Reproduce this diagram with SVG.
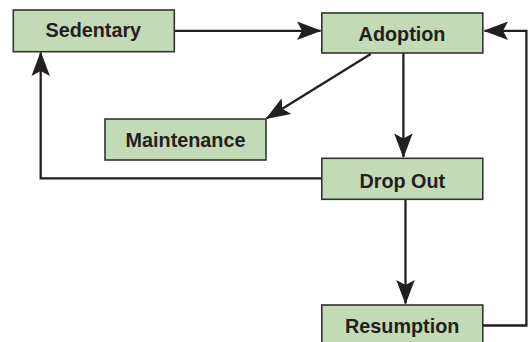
<svg xmlns="http://www.w3.org/2000/svg" width="528" height="342" viewBox="0 0 528 342">
  <style>
    .box { fill: #c2dab6; stroke: #333333; stroke-width: 1.6; }
    .label { font-family: "Liberation Sans", Arial, sans-serif; font-weight: bold; font-size: 19.8px; fill: #231f20; text-anchor: middle; }
    .edge { fill: none; stroke: #231f20; stroke-width: 2.3; }
  </style>
  <defs>
    <marker id="arrow" markerUnits="userSpaceOnUse" markerWidth="1" markerHeight="1" refX="0" refY="0" orient="auto" overflow="visible">
      <path d="M1,0 L-23.5,-9.2 L-18.5,0 L-23.5,9.2 Z" fill="#231f20"/>
    </marker>
  </defs>
  <rect width="528" height="342" fill="#ffffff"/>

  <g id="connectors">
    <!-- Sedentary to Adoption -->
    <path class="edge" d="M174.3,30.8 H320.5" marker-end="url(#arrow)"/>
    <!-- Adoption to Maintenance -->
    <path class="edge" d="M370.7,54 L266.5,118.5" marker-end="url(#arrow)"/>
    <!-- Adoption to Drop Out -->
    <path class="edge" d="M403.4,53 V157" marker-end="url(#arrow)"/>
    <!-- Drop Out back to Sedentary -->
    <path class="edge" d="M322,178.3 H40.7 V52.5" marker-end="url(#arrow)"/>
    <!-- Drop Out to Resumption -->
    <path class="edge" d="M405.5,199.5 V303.5" marker-end="url(#arrow)"/>
    <!-- Resumption back to Adoption -->
    <path class="edge" d="M483,325.5 H526.4 V30.8 H484.5" marker-end="url(#arrow)"/>
  </g>

  <g id="sedentary">
    <rect class="box" x="13.3" y="10" width="161" height="41.7"/>
    <text class="label" x="93.3" y="36.8">Sedentary</text>
  </g>
  <g id="adoption">
    <rect class="box" x="321.8" y="13" width="161" height="40"/>
    <text class="label" x="402" y="40.7">Adoption</text>
  </g>
  <g id="maintenance">
    <rect class="box" x="105" y="119" width="161" height="41"/>
    <text class="label" x="185.5" y="146.7">Maintenance</text>
  </g>
  <g id="drop-out">
    <rect class="box" x="321.8" y="158.3" width="161" height="41"/>
    <text class="label" x="402.3" y="188.3">Drop Out</text>
  </g>
  <g id="resumption">
    <rect class="box" x="321.8" y="305" width="161" height="45"/>
    <text class="label" x="402.2" y="333.3">Resumption</text>
  </g>
</svg>
